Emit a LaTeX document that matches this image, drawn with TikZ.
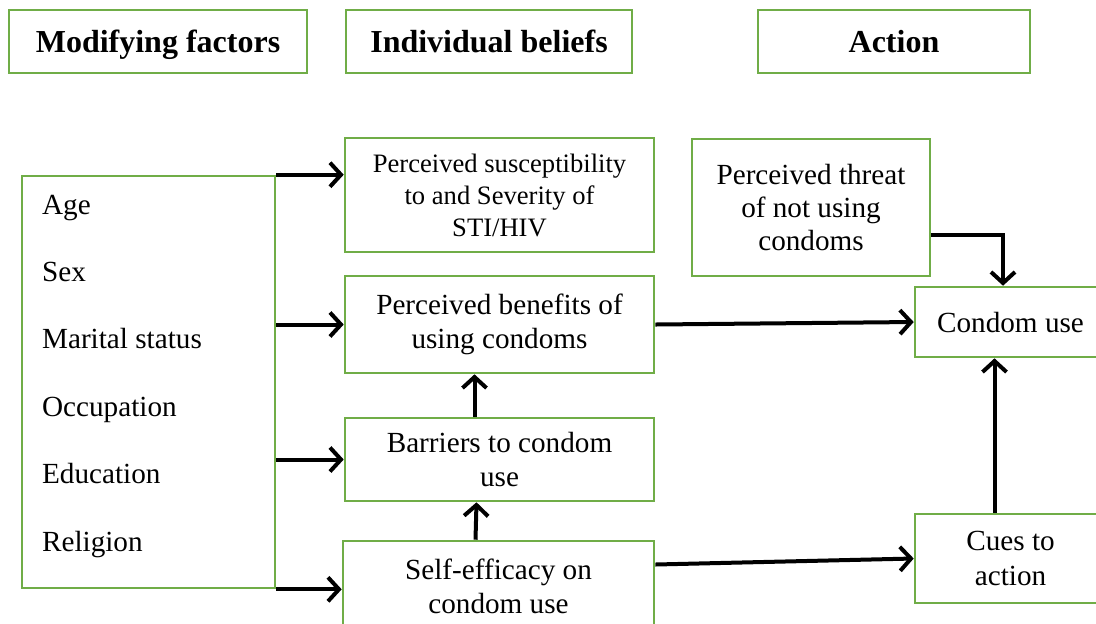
\documentclass[tikz,border=0pt]{standalone}
\usepackage{fontspec}
\setmainfont{Liberation Serif}
\usetikzlibrary{arrows.meta,positioning}

\definecolor{boxgreen}{RGB}{112,173,71}

\begin{document}
\begin{tikzpicture}[x=0.5pt,y=-0.5pt,>={Straight Barb[length=5.5pt,width=12pt]}]
  \tikzstyle{box}=[draw=boxgreen,line width=1.3pt,align=center,inner sep=0pt,
    font=\fontsize{14.6}{17.3}\selectfont]
  \tikzstyle{head}=[box,minimum height=31.5pt,text depth=0pt,font=\fontsize{16}{19}\selectfont\bfseries]
  \tikzstyle{arr}=[line width=2pt,->]
  \useasboundingbox (0,0) rectangle (1096,623);
  % headings
  \node[head,minimum width=149pt] (hmod) at (158,41.5) {Modifying factors};
  \node[head,minimum width=143pt] (hbel) at (489,41.5) {Individual beliefs};
  \node[head,minimum width=136pt] (hact) at (894,41.5) {Action};
  % modifying factors
  \node[box,minimum width=126.5pt,minimum height=206pt] (mod) at (148.5,382) {};
  \node[anchor=west,align=left,inner sep=0pt,font=\fontsize{14.6}{33.7}\selectfont]
    (modlist) at ([xshift=10.5pt,yshift=3pt]mod.west)
    {Age\\Sex\\Marital status\\Occupation\\Education\\Religion};
  % individual beliefs
  \node[box,minimum width=154.5pt,minimum height=57pt,font=\fontsize{13.3}{16}\selectfont]
    (susc) at (499.5,195) {Perceived susceptibility\\to and Severity of\\STI/HIV};
  \node[box,minimum width=154.5pt,minimum height=48.5pt] (bene) at (499.5,324.5)
    {Perceived benefits of\\using condoms};
  \node[box,minimum width=154.5pt,minimum height=41.5pt] (barr) at (499.5,459.5)
    {Barriers to condom\\use};
  \node[box,minimum width=155.5pt,minimum height=45.5pt] (self) at (498.5,586.5)
    {Self-efficacy on\\condom use};
  % action
  \node[box,minimum width=119pt,minimum height=68.5pt,font=\fontsize{14.6}{16.5}\selectfont]
    (threat) at (811,207.5) {Perceived threat\\of not using\\condoms};
  \node[box,minimum width=95.5pt,minimum height=35pt] (cond) at (1010.5,322) {Condom use};
  \node[box,minimum width=95.5pt,minimum height=44.5pt] (cues) at (1010.5,558.5)
    {Cues to\\action};
  % connectors
  \draw[arr] (mod.north east) -- (mod.north east -| susc.west);
  \draw[arr] (mod.east |- bene.west) -- (bene.west);
  \draw[arr] (mod.east |- barr.west) -- (barr.west);
  \draw[arr] (mod.south east) -- (mod.south east -| self.west);
  \draw[arr] (bene.east) -- (cond.west);
  \draw[arr] ([xshift=-12.5pt]barr.north) -- ([xshift=-12.5pt]bene.south);
  \draw[arr] ([xshift=-11.5pt]self.north) -- ([xshift=-11.5pt]barr.south);
  \draw[arr] ([yshift=-13.75pt]threat.east) -| ([xshift=-3.75pt]cond.north);
  \draw[arr] ([xshift=-8pt]cues.north) -- ([xshift=-8pt]cond.south);
  \draw[arr] ([yshift=11pt]self.east) -- (cues.west);
\end{tikzpicture}
\end{document}
